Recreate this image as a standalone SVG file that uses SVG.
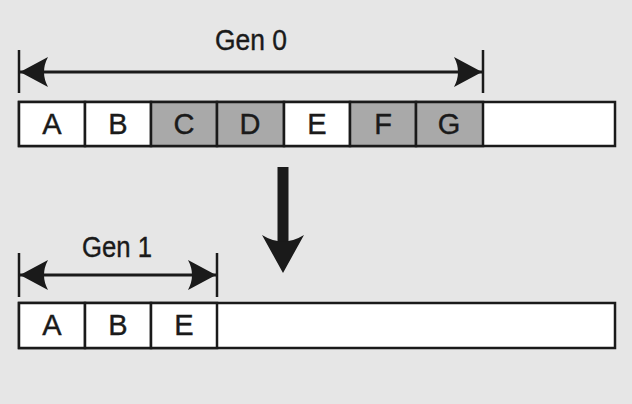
<svg xmlns="http://www.w3.org/2000/svg" width="632" height="404" viewBox="0 0 632 404">
  <defs>
    <style>
      .cell { stroke: #1a1a1a; stroke-width: 2.5; }
      .w { fill: #ffffff; }
      .g { fill: #a9a9a9; }
      .lbl { font-family: "Liberation Sans", Arial, sans-serif; font-size: 29px; fill: #1a1a1a; stroke: #1a1a1a; stroke-width: 0.4; text-anchor: middle; }
      .line { stroke: #1a1a1a; stroke-width: 3; fill: none; }
      .tick { stroke: #1a1a1a; stroke-width: 2.5; }
    </style>
    <marker id="ah" viewBox="0 0 28 30" refX="28" refY="15" markerWidth="28" markerHeight="30" markerUnits="userSpaceOnUse" orient="auto-start-reverse">
      <path d="M0,0 L28,15 L0,30 Q8,15 0,0 Z" fill="#1a1a1a"/>
    </marker>
  </defs>
  <rect x="0" y="0" width="632" height="404" fill="#e6e6e6"/>

  <g id="connectors">
    <g id="gen0-span">
      <line class="tick" x1="19" y1="50" x2="19" y2="93"/>
      <line class="tick" x1="483" y1="50" x2="483" y2="93"/>
      <line class="line" x1="20" y1="72" x2="482" y2="72" marker-start="url(#ah)" marker-end="url(#ah)"/>
    </g>
    <g id="gen1-span">
      <line class="tick" x1="19" y1="253" x2="19" y2="297"/>
      <line class="tick" x1="217" y1="253" x2="217" y2="297"/>
      <line class="line" x1="20" y1="275" x2="216" y2="275" marker-start="url(#ah)" marker-end="url(#ah)"/>
    </g>
    <g id="down-arrow">
      <rect x="277.5" y="167" width="11" height="80" fill="#1a1a1a"/>
      <path d="M262,235 Q283,248 304,235 L283,273 Z" fill="#1a1a1a"/>
    </g>
  </g>

  <text class="lbl" x="251" y="50" textLength="72" lengthAdjust="spacingAndGlyphs">Gen 0</text>
  <text class="lbl" x="117" y="257" textLength="70" lengthAdjust="spacingAndGlyphs">Gen 1</text>

  <g id="gen0">
    <rect class="cell w" x="19" y="102" width="596" height="44"/>
    <g id="g0-A"><rect class="cell w" x="19" y="102" width="66" height="44"/><text class="lbl" x="52" y="134">A</text></g>
    <g id="g0-B"><rect class="cell w" x="85" y="102" width="66" height="44"/><text class="lbl" x="118" y="134">B</text></g>
    <g id="g0-C"><rect class="cell g" x="151" y="102" width="66" height="44"/><text class="lbl" x="184" y="134">C</text></g>
    <g id="g0-D"><rect class="cell g" x="217" y="102" width="67" height="44"/><text class="lbl" x="250" y="134">D</text></g>
    <g id="g0-E"><rect class="cell w" x="284" y="102" width="66" height="44"/><text class="lbl" x="317" y="134">E</text></g>
    <g id="g0-F"><rect class="cell g" x="350" y="102" width="66" height="44"/><text class="lbl" x="383" y="134">F</text></g>
    <g id="g0-G"><rect class="cell g" x="416" y="102" width="67" height="44"/><text class="lbl" x="449" y="134">G</text></g>
  </g>

  <g id="gen1">
    <rect class="cell w" x="19" y="303" width="596" height="45"/>
    <g id="g1-A"><rect class="cell w" x="19" y="303" width="66" height="45"/><text class="lbl" x="52" y="335">A</text></g>
    <g id="g1-B"><rect class="cell w" x="85" y="303" width="66" height="45"/><text class="lbl" x="118" y="335">B</text></g>
    <g id="g1-E"><rect class="cell w" x="151" y="303" width="66" height="45"/><text class="lbl" x="184" y="335">E</text></g>
  </g>
</svg>
